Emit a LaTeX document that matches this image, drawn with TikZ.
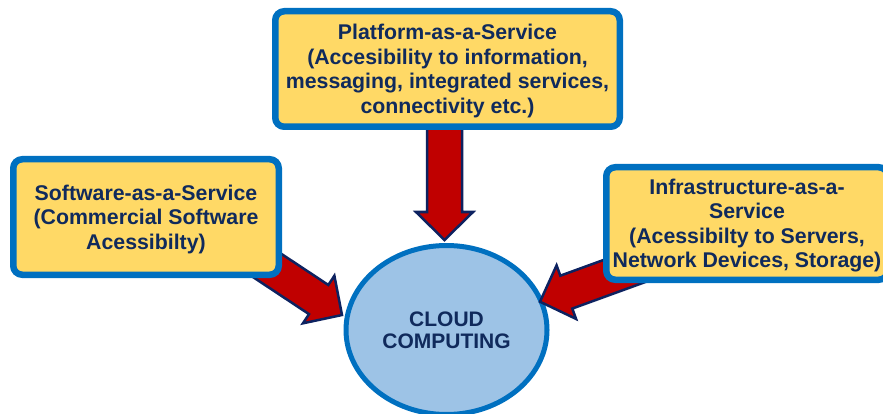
\documentclass[tikz,border=0pt]{standalone}
\usepackage{fontspec}
\setmainfont{Liberation Sans}
\usetikzlibrary{shapes.geometric,calc}
\definecolor{boxfill}{HTML}{FFD966}
\definecolor{boxline}{HTML}{0070C0}
\definecolor{navytext}{HTML}{102A5C}
\definecolor{cloudfill}{HTML}{9DC3E6}
\definecolor{arrowred}{HTML}{C00000}
\definecolor{arrowline}{HTML}{0D2260}
\tikzset{
  svcbox/.style={draw=boxline, fill=boxfill, line width=6.5pt, rounded corners=9pt,
    inner sep=0pt, align=center, text=navytext, text depth=0pt,
    font=\fontsize{21.3}{24.5}\selectfont\bfseries},
  cloud/.style={ellipse, draw=boxline, fill=cloudfill, line width=5pt, inner sep=0pt,
    align=center, text=navytext, font=\fontsize{21}{21.7}\selectfont\bfseries},
  fatarr/.style={fill=arrowred, draw=arrowline, line width=2.5pt, line join=miter}
}
\newcommand{\fatarrow}[2]{%
  \coordinate (hb) at ($(#2)!28pt!(#1)$);
  \draw[fatarr] ($(#1)!17.5pt!90:(#2)$) -- ($(hb)!17.5pt!90:(#2)$) -- ($(hb)!28.5pt!90:(#2)$)
    -- (#2) -- ($(hb)!28.5pt!-90:(#2)$) -- ($(hb)!17.5pt!-90:(#2)$) -- ($(#1)!17.5pt!-90:(#2)$) -- cycle;
}
\begin{document}
\begin{tikzpicture}[x=1pt,y=-1pt]
\useasboundingbox (0,0) rectangle (883,414);
% central ellipse
\node[cloud, minimum width=201pt, minimum height=169pt] (cc) at (446.5,330) {CLOUD\\COMPUTING};
% arrow end points
\coordinate (ptail) at (444.5,120);
\coordinate (ptip) at (444.5,240);
\coordinate (stail) at (250.3,254.3);
\coordinate (stip) at (342,315);
\coordinate (itail) at (643.4,264.1);
\coordinate (itip) at (540,301.7);
\fatarrow{ptail}{ptip}
\fatarrow{stail}{stip}
\fatarrow{itail}{itip}
% boxes
\node[svcbox, minimum width=344.5pt, minimum height=115.5pt] (paas) at (447.5,69)
  {Platform-as-a-Service\\(Accesibility to information,\\messaging, integrated services,\\connectivity etc.)};
\node[svcbox, minimum width=265.5pt, minimum height=115.5pt] (saas) at (146,217)
  {Software-as-a-Service\\(Commercial Software\\Acessibilty)};
\node[svcbox, minimum width=281.5pt, minimum height=112.5pt] (iaas) at (747,223.5)
  {Infrastructure-as-a-\\Service\\(Acessibilty to Servers,\\Network Devices, Storage)};
\end{tikzpicture}
\end{document}
